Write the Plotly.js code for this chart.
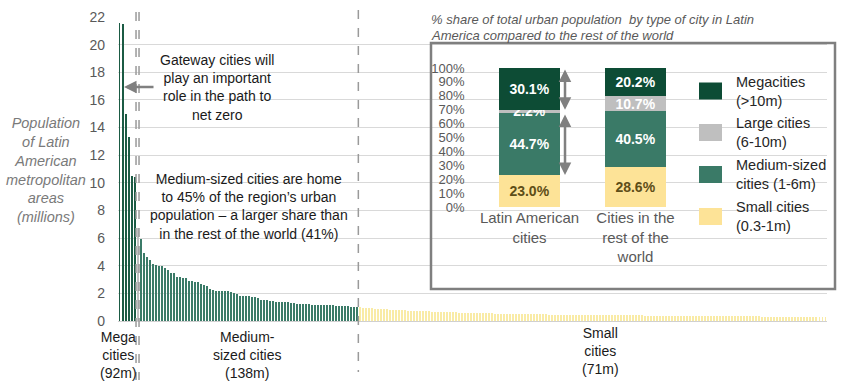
<!DOCTYPE html>
<html><head><meta charset="utf-8">
<script src="https://cdn.plot.ly/plotly-3.0.1.min.js"></script>
<style>html,body{margin:0;padding:0;background:#fff}</style>
</head><body><div id="chart" style="width:850px;height:388px"></div>
<script>
// ---- data ----
const megaValues = [21.6, 21.5, 15.0, 13.3, 10.5, 10.4];
const largeValues = [6.7];
const mediumValues = [5.9, 4.95, 4.65, 4.4, 4.1, 4.05, 4.0, 4.0, 3.8, 3.7, 3.5, 3.45,
  3.2, 3.15, 3.1, 3.1, 2.9, 2.9, 2.85, 2.8, 2.65, 2.6, 2.55, 2.3,
  2.25, 2.2, 2.2, 2.2, 2.15, 2.15, 2.1, 2.0, 1.95,
  1.8, 1.8, 1.8, 1.78, 1.75, 1.75, 1.7, 1.55, 1.5, 1.5, 1.45,
  1.42, 1.4, 1.4, 1.38, 1.35, 1.35, 1.33, 1.3,
  1.25, 1.22, 1.2, 1.2, 1.2, 1.18, 1.18, 1.17, 1.17, 1.16, 1.15, 1.15, 1.14,
  1.1, 1.08, 1.07, 1.06, 1.05, 1.04, 1.02, 1.0];
const smallValues = [0.98, 0.96, 0.95, 0.93, 0.92, 0.9, 0.89, 0.87, 0.86, 0.85,
  0.83, 0.82, 0.8, 0.79, 0.78, 0.77, 0.76, 0.75, 0.74, 0.73, 0.72, 0.71, 0.7, 0.69, 0.68,
  0.67, 0.66, 0.66, 0.65, 0.64, 0.63, 0.63, 0.62, 0.61, 0.6, 0.6, 0.59, 0.58, 0.58, 0.57, 0.57, 0.56, 0.56, 0.55, 0.55,
  0.54, 0.54, 0.53, 0.53, 0.52, 0.52, 0.52, 0.51, 0.51, 0.5, 0.5, 0.5, 0.49, 0.49, 0.49, 0.48, 0.48, 0.48, 0.47, 0.47, 0.47, 0.46, 0.46, 0.46, 0.46,
  0.45, 0.45, 0.45, 0.44, 0.44, 0.44, 0.44, 0.43, 0.43, 0.43, 0.43, 0.42, 0.42, 0.42, 0.42, 0.41, 0.41, 0.41, 0.41, 0.41, 0.4, 0.4, 0.4, 0.4, 0.4, 0.39, 0.39, 0.39, 0.39, 0.39,
  0.38, 0.38, 0.38, 0.38, 0.38, 0.37, 0.37, 0.37, 0.37, 0.37, 0.36, 0.36, 0.36, 0.36, 0.36, 0.36, 0.35, 0.35, 0.35, 0.35, 0.35, 0.35, 0.34, 0.34, 0.34, 0.34, 0.34, 0.34, 0.33, 0.33,
  0.33, 0.33, 0.33, 0.33, 0.32, 0.32, 0.32, 0.32, 0.32, 0.32, 0.31, 0.31, 0.31, 0.31, 0.31, 0.31, 0.31, 0.3, 0.3, 0.3, 0.3, 0.3, 0.3, 0.3, 0.3, 0.3];
const groupLabels = ["Mega<br>cities<br>(92m)", "Medium-<br>sized cities<br>(138m)", "Small<br>cities<br>(71m)"];
const yTickValues = [0, 2, 4, 6, 8, 10, 12, 14, 16, 18, 20, 22];
const yAxisTitle = "Population<br>of Latin<br>American<br>metropolitan<br>areas<br>(millions)";

const shareCategories = ["Latin American<br>cities", "Cities in the<br>rest of the<br>world"];
const shareNames = ["Megacities<br>(>10m)", "Large cities<br>(6-10m)", "Medium-sized<br>cities (1-6m)", "Small cities<br>(0.3-1m)"];
const shareMega = [30.1, 20.2];
const shareLarge = [2.2, 10.7];
const shareMedium = [44.7, 40.5];
const shareSmall = [23.0, 28.6];
const shareTickValues = [0, 10, 20, 30, 40, 50, 60, 70, 80, 90, 100];
const insetTitle = ["% share of total urban population  by type of city in Latin", "America compared to the rest of the world"];
const noteGateway = "Gateway cities will<br>play an important<br>role in the path to<br>net zero";
const noteMedium = "Medium-sized cities are home<br>to 45% of the region’s urban<br>population – a larger share than<br>in the rest of the world (41%)";

// ---- styling ----
const C_MEGA = '#0d4c35', C_LARGE = '#bfbfbf', C_MED = '#3a7a67', C_SMALL = '#fde397';
const C_MEGA_MAIN = '#1b5b44', C_MED_MAIN = '#3b7b68', C_SMALL_MAIN = '#f9eba6';
const FONT = 'Liberation Sans, Arial, sans-serif';
const GRAY = '#595959';
const L = 118, W = 709, T = 17, H = 304;
const PX = x => (x - L) / W;
const PY = y => (T + H - y) / H;

const idx = (start, arr) => arr.map((_, i) => start + i);
const s1 = megaValues.length, s2 = s1 + largeValues.length, s3 = s2 + mediumValues.length;
const N = s3 + smallValues.length;

const mainTrace = (vals, start, color, name) => ({
  type: 'bar', x: idx(start, vals), y: vals, xaxis: 'x', yaxis: 'y',
  marker: {color: color, line: {width: 0}}, width: 0.66, name: name, showlegend: false, hoverinfo: 'skip'
});

const shareTrace = (vals, name, color, txtColor) => ({
  type: 'bar', x: [0, 1], y: vals, xaxis: 'x2', yaxis: 'y2', width: 0.575, name: name, showlegend: false,
  marker: {color: color, line: {width: 0}},
  text: vals.map(v => v.toFixed(1) + '%'), textposition: 'inside', insidetextanchor: 'middle',
  constraintext: 'none', textangle: 0,
  textfont: {family: FONT, size: 14, color: txtColor, weight: 'bold'}, hoverinfo: 'skip'
});

const data = [
  mainTrace(megaValues, 0, C_MEGA_MAIN, 'mega'),
  mainTrace(largeValues, s1, C_LARGE, 'large'),
  mainTrace(mediumValues, s2, C_MED_MAIN, 'medium'),
  mainTrace(smallValues, s3, C_SMALL_MAIN, 'small'),
  shareTrace(shareSmall, shareNames[3], C_SMALL, '#5e4e18'),
  shareTrace(shareMedium, shareNames[2], C_MED, '#ffffff'),
  shareTrace(shareLarge, shareNames[1], C_LARGE, '#ffffff'),
  shareTrace(shareMega, shareNames[0], C_MEGA, '#ffffff')
];

const shapes = [];
const dash = (x, y0, y1) => shapes.push({type: 'line', xref: 'x', yref: 'paper', x0: x, x1: x,
  y0: PY(y0), y1: PY(y1), line: {color: '#9a9a9a', width: 1.5, dash: 'dash'}, layer: 'above'});
dash(s1 - 0.5, 12, 380);
dash(s2 - 0.5, 12, 380);
dash(s3 - 0.5, 10, 372);
shapes.push({type: 'rect', xref: 'paper', yref: 'paper', x0: PX(431), x1: PX(835), y0: PY(289), y1: PY(43),
  line: {color: '#7f7f7f', width: 2.5}, fillcolor: 'rgba(0,0,0,0)'});
const legColors = [C_MEGA, C_LARGE, C_MED, C_SMALL];
const legY = [91, 132.5, 174.5, 216.5];
legColors.forEach((c, i) => shapes.push({type: 'rect', xref: 'paper', yref: 'paper',
  x0: PX(699), x1: PX(722), y0: PY(legY[i] + 8.5), y1: PY(legY[i] - 8.5), fillcolor: c, line: {width: 0}}));

const annotations = [];
const txt = (text, x, y, opts) => annotations.push(Object.assign({text: text, xref: 'paper', yref: 'paper',
  x: PX(x), y: PY(y), xanchor: 'center', yanchor: 'middle', showarrow: false,
  font: {family: FONT, size: 14, color: '#1a1a1a'}}, opts || {}));

txt(noteGateway, 217, 87, {});
txt(noteMedium, 249, 206, {});
txt(yAxisTitle, 46, 170, {font: {family: FONT, size: 14.5, color: '#7a7a7a', style: 'italic'}});
txt(groupLabels[0], 118, 355, {});
txt(groupLabels[1], 247, 355, {});
txt(groupLabels[2], 600, 351, {});
txt(insetTitle[0], 429, 20, {xanchor: 'left', font: {family: FONT, size: 13, color: GRAY, style: 'italic'}});
txt(insetTitle[1], 429, 35, {xanchor: 'left', font: {family: FONT, size: 13, color: GRAY, style: 'italic'}});
shareNames.forEach((n, i) => txt(n, 734, legY[i], {xanchor: 'left', align: 'left', font: {family: FONT, size: 14.5, color: '#262626'}}));

annotations.push({xref: 'paper', yref: 'paper', x: PX(124), y: PY(87), ax: 31, ay: 0, text: '',
  showarrow: true, arrowhead: 2, arrowsize: 1, arrowwidth: 2.5, arrowcolor: '#808080'});
const aX = 0.335;
const megaBottom = 100 - shareMega[0];
const medTop = shareSmall[0] + shareMedium[0];
[[100, megaBottom], [medTop, shareSmall[0]]].forEach(([a, b]) => annotations.push({
  xref: 'x2', yref: 'y2', axref: 'x2', ayref: 'y2', x: aX, y: b, ax: aX, ay: a, text: '',
  showarrow: true, arrowhead: 2, startarrowhead: 2, arrowside: 'end+start', arrowsize: 1,
  arrowwidth: 2.5, arrowcolor: '#808080'}));

const layout = {
  width: 850, height: 388,
  margin: {l: L, r: 850 - L - W, t: T, b: 388 - T - H, pad: 0},
  paper_bgcolor: '#ffffff', plot_bgcolor: 'rgba(0,0,0,0)',
  font: {family: FONT, size: 14, color: GRAY},
  barmode: 'stack', showlegend: false,
  xaxis: {domain: [0, 1], range: [-0.5, N - 0.5], showgrid: false, zeroline: false, showticklabels: false, ticks: '', fixedrange: true},
  yaxis: {domain: [0, 1], range: [0, 22], tickvals: yTickValues, showgrid: true, gridcolor: '#d9d9d9', gridwidth: 1,
    zeroline: true, zerolinecolor: '#d0d0d0', zerolinewidth: 1, showline: false, ticks: '',
    tickfont: {family: FONT, size: 14, color: GRAY}, ticklabelstandoff: 12},
  xaxis2: {domain: [PX(476.5), PX(688.5)], anchor: 'y2', range: [-0.5, 1.5], tickvals: [0, 1], ticktext: shareCategories,
    showgrid: false, zeroline: false, showline: false, ticks: '', tickfont: {family: FONT, size: 15, color: GRAY}},
  yaxis2: {domain: [PY(207), PY(68)], anchor: 'x2', range: [0, 100], tickvals: shareTickValues,
    ticktext: shareTickValues.map(v => v + '%'),
    showgrid: false, zeroline: false, showline: false, ticks: '', tickfont: {family: FONT, size: 13, color: GRAY},
    ticklabelstandoff: 11},
  shapes: shapes,
  annotations: annotations
};

Plotly.newPlot('chart', data, layout, {displayModeBar: false, staticPlot: true});
</script>
</body></html>
